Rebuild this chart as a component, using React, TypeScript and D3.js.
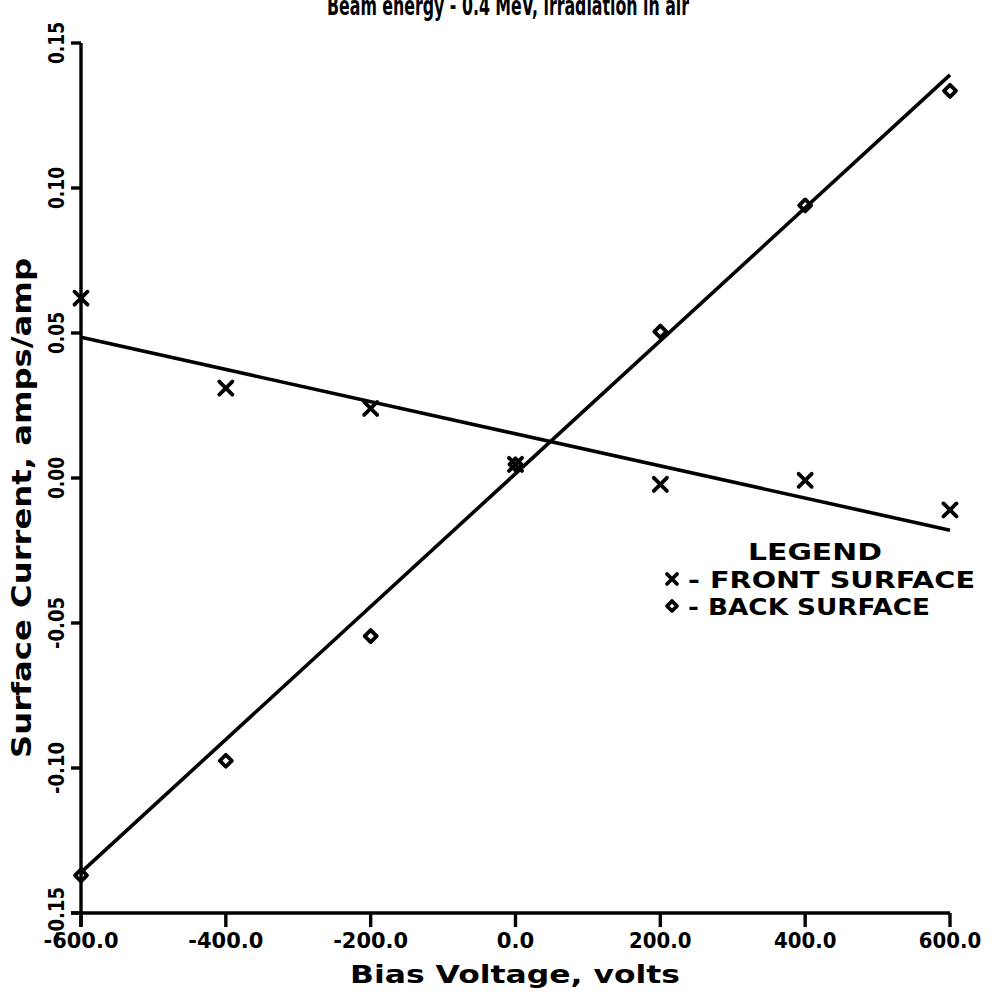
import React from "react";
import * as d3 from "d3";

const voltages = [-600, -400, -200, 0, 200, 400, 600];
const frontSurface = [0.062, 0.031, 0.024, 0.0047, -0.0022, -0.0008, -0.011];
const backSurface = [-0.137, -0.0975, -0.0545, 0.0047, 0.0505, 0.094, 0.1335];
const fitX = [-600, 600];
const frontFit = [0.0485, -0.018];
const backFit = [-0.136, 0.139];
const xTicks = [-600, -400, -200, 0, 200, 400, 600];
const yTicks = [-0.15, -0.1, -0.05, 0, 0.05, 0.1, 0.15];
const titleText = "Beam energy - 0.4 MeV, irradiation in air";
const xLabel = "Bias Voltage, volts";
const yLabel = "Surface Current, amps/amp";
const legendTitle = "LEGEND";
const legendItems = ["- FRONT SURFACE", "- BACK SURFACE"];

const FONT = "'DejaVu Sans', sans-serif";

export default function App() {
  const x = d3.scaleLinear().domain([-600, 600]).range([81, 950]);
  const y = d3.scaleLinear().domain([-0.15, 0.15]).range([913, 43]);
  const line = d3
    .line<number>()
    .x((_, i) => x(fitX[i]))
    .y((d) => y(d));

  const cross = (cx: number, cy: number, key: string, s = 6.5) => (
    <g key={key} stroke="#000" strokeWidth={3.8} strokeLinecap="round">
      <line x1={cx - s} y1={cy - s} x2={cx + s} y2={cy + s} />
      <line x1={cx - s} y1={cy + s} x2={cx + s} y2={cy - s} />
    </g>
  );
  const diamond = (cx: number, cy: number, key: string, s = 6) => (
    <path
      key={key}
      d={`M${cx},${cy - s}L${cx + s},${cy}L${cx},${cy + s}L${cx - s},${cy}Z`}
      fill="none"
      stroke="#000"
      strokeWidth={3.8}
      strokeLinejoin="round"
    />
  );

  return (
    <svg
      width={994}
      height={994}
      style={{ position: "absolute", left: 0, top: 0, background: "#fff" }}
      fontFamily={FONT}
      fontWeight="bold"
    >
      <rect width={994} height={994} fill="#fff" />
      {/* title (top clipped as in the reference) */}
      <text x={508} y={15} textAnchor="middle" fontSize={26} textLength={362} lengthAdjust="spacingAndGlyphs">
        {titleText}
      </text>

      {/* axes */}
      <g stroke="#000" strokeWidth={3.4} fill="none">
        <line x1={x(-600)} y1={y(0.15)} x2={x(-600)} y2={927} />
        <line x1={71} y1={y(-0.15)} x2={x(600)} y2={y(-0.15)} />
        {yTicks.map((t) => (
          <line key={"yt" + t} x1={71} x2={x(-600)} y1={y(t)} y2={y(t)} />
        ))}
        {xTicks.map((t) => (
          <line key={"xt" + t} x1={x(t)} x2={x(t)} y1={y(-0.15)} y2={927} />
        ))}
      </g>

      {/* y tick labels */}
      {yTicks.map((t) => (
        <text
          key={"yl" + t}
          transform={`translate(56,${y(t)}) rotate(-90)`}
          textAnchor="middle"
          dominantBaseline="central"
          fontSize={22}
          textLength={t < 0 ? 52 : 42}
          lengthAdjust="spacingAndGlyphs"
        >
          {t.toFixed(2)}
        </text>
      ))}
      {/* x tick labels */}
      {xTicks.map((t) => {
        const s = t.toFixed(1);
        return (
          <text
            key={"xl" + t}
            x={x(t)}
            y={948}
            textAnchor="middle"
            fontSize={21}
            textLength={s.length * 12.5}
            lengthAdjust="spacingAndGlyphs"
          >
            {s}
          </text>
        );
      })}

      {/* axis labels */}
      <text x={515} y={983} textAnchor="middle" fontSize={25} textLength={330} lengthAdjust="spacingAndGlyphs">
        {xLabel}
      </text>
      <text
        transform={`translate(31,${y(0) + 30}) rotate(-90)`}
        textAnchor="middle"
        fontSize={26}
        textLength={500}
        lengthAdjust="spacingAndGlyphs"
      >
        {yLabel}
      </text>

      {/* fit lines */}
      <path d={line(frontFit) || ""} fill="none" stroke="#000" strokeWidth={3.6} />
      <path d={line(backFit) || ""} fill="none" stroke="#000" strokeWidth={3.6} />

      {/* markers */}
      {voltages.map((v, i) => cross(x(v), y(frontSurface[i]), "f" + i))}
      {voltages.map((v, i) => diamond(x(v), y(backSurface[i]), "b" + i))}

      {/* legend */}
      <text x={815} y={560} textAnchor="middle" fontSize={23} textLength={134} lengthAdjust="spacingAndGlyphs">
        {legendTitle}
      </text>
      {cross(672, 579, "lc", 5)}
      <text x={688} y={588} fontSize={23} textLength={287} lengthAdjust="spacingAndGlyphs">
        {legendItems[0]}
      </text>
      {diamond(672, 606, "ld", 5)}
      <text x={688} y={615} fontSize={23} textLength={242} lengthAdjust="spacingAndGlyphs">
        {legendItems[1]}
      </text>
    </svg>
  );
}
